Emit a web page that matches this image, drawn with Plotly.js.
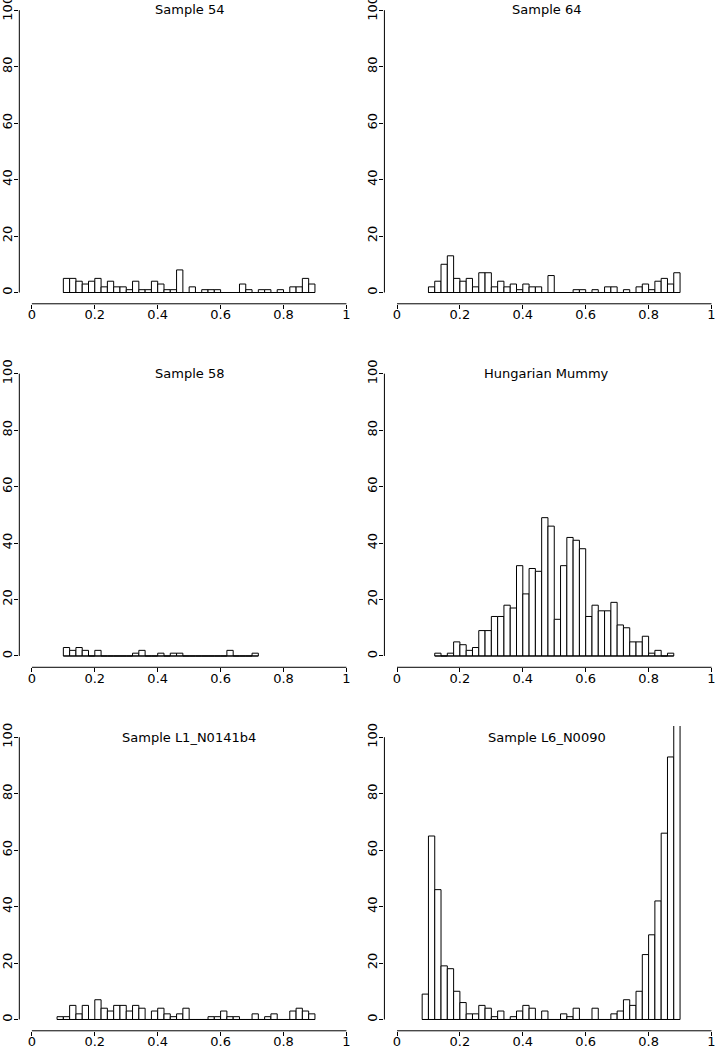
<!DOCTYPE html>
<html><head><meta charset="utf-8">
<script src="https://cdn.plot.ly/plotly-3.0.1.min.js"></script>
<style>html,body{margin:0;padding:0;background:#fff;} #chart{width:716px;height:1050px;}</style>
</head><body><div id="chart"></div>
<script>
// ---- data ----
const titles = ["Sample 54", "Sample 64", "Sample 58", "Hungarian Mummy", "Sample L1_N0141b4", "Sample L6_N0090"];
const binWidth = 0.02;
const binStarts = [0.10, 0.10, 0.10, 0.12, 0.08, 0.08];
const sample54 = [5,5,4,3,4,5,2,4,2,2, 1,4,1,1,4,3,1,1,8,0, 2,0,1,1,1,0,0,0,3,1, 0,1,1,0,1,0,2,2,5,3];
const sample64 = [2,4,10,13,5,4,5,2,7,7, 2,4,2,3,1,3,2,2,0,6, 0,0,0,1,1,0,1,0,2,2, 0,1,0,2,3,1,4,5,3,7];
const sample58 = [3,2,3,2,0,2,0,0,0,0, 0,1,2,0,0,1,0,1,1,0, 0,0,0,0,0,0,2,0,0,0, 1];
const hungarianMummy = [1,0,1,5,4,2,3,9,9,14, 14,18,17,32,22,31,30,49,46,13, 32,42,41,38,14,18,16,16,19,11, 10,5,5,7,1,2,0,1];
const sampleL1 = [1,1,5,2,5,0,7,4,3,5, 5,3,5,4,0,3,4,2,1,2, 4,0,0,0,1,1,3,1,1,0, 0,2,0,1,2,0,0,3,4,3, 2];
const sampleL6 = [9,65,46,19,18,10,6,2,2,5, 4,1,3,0,1,3,5,4,0,3, 0,0,2,1,4,0,0,4,0,0, 2,3,7,5,10,23,30,42,66,93, 130];
const xTickVals = [0, 0.2, 0.4, 0.6, 0.8, 1];
const xTickText = ["0", "0.2", "0.4", "0.6", "0.8", "1"];
const yTickVals = [0, 20, 40, 60, 80, 100];
const yTickText = ["0", "20", "40", "60", "80", "100"];

const series = [sample54, sample64, sample58, hungarianMummy, sampleL1, sampleL6];

// ---- layout geometry (pixels) ----
const W = 716, H = 1050;
const colX0 = [31.9, 397.0];          // pixel of x = 0
const kx = 314.5;                     // px per x unit
const rowY0 = [292.5, 656.0, 1019.5]; // pixel of y = 0
const ky = 2.823;                     // px per count
const titleX = [189, 546.5];
const titleY = [10, 373, 737];
const FONT = "DejaVu Sans, Arial, sans-serif";
const FS = 13;

const traces = [];
const layout = {
  width: W, height: H,
  margin: {l: 0, r: 0, t: 0, b: 0, pad: 0},
  paper_bgcolor: "#fff", plot_bgcolor: "rgba(0,0,0,0)",
  showlegend: false, bargap: 0,
  shapes: [], annotations: [],
  font: {family: FONT, color: "#000", size: FS}
};

series.forEach((vals, i) => {
  const r = Math.floor(i / 2), c = i % 2;
  const idx = i + 1;
  const xa = "x" + (idx === 1 ? "" : idx), ya = "y" + (idx === 1 ? "" : idx);
  const xKey = "xaxis" + (idx === 1 ? "" : idx), yKey = "yaxis" + (idx === 1 ? "" : idx);

  const x0 = colX0[c];
  const leftPx = x0 - 0.04 * kx;
  const rightPx = Math.min(W, x0 + 1.04 * kx);
  const y0 = rowY0[r];
  const topPx = Math.max(0, y0 - 104 * ky);
  const botPx = y0 + 4 * ky;

  const centers = vals.map((v, j) => binStarts[i] + binWidth * (j + 0.5));
  const start = binStarts[i], end = binStarts[i] + binWidth * vals.length;
  traces.push({
    type: "scatter", mode: "lines", x: [start, end], y: [0, 0],
    xaxis: xa, yaxis: ya, line: {color: "#000", width: 1}, hoverinfo: "skip"
  });
  traces.push({
    type: "bar", x: centers, y: vals, width: binWidth,
    xaxis: xa, yaxis: ya,
    marker: {color: "#fff", line: {color: "#000", width: 1}},
    hoverinfo: "skip"
  });

  layout[xKey] = {
    domain: [leftPx / W, rightPx / W],
    range: [(leftPx - x0) / kx, (rightPx - x0) / kx],
    anchor: ya, showgrid: false, zeroline: false, showline: false,
    tickmode: "array", tickvals: xTickVals, ticktext: xTickText,
    ticks: "outside", ticklen: 4, tickwidth: 1, tickcolor: "#000",
    ticklabelstandoff: -5, ticklabeloverflow: "allow",
    tickfont: {family: FONT, size: FS, color: "#000"}, fixedrange: true
  };
  layout[yKey] = {
    domain: [1 - botPx / H, 1 - topPx / H],
    range: [(y0 - botPx) / ky, (y0 - topPx) / ky],
    anchor: xa, showgrid: false, zeroline: false, showline: false,
    tickmode: "array", tickvals: yTickVals, ticktext: yTickText,
    ticks: "outside", ticklen: 4, tickwidth: 1, tickcolor: "#000", tickangle: -90,
    ticklabelstandoff: -3, ticklabeloverflow: "allow",
    tickfont: {family: FONT, size: FS, color: "#000"}, fixedrange: true
  };
  layout.shapes.push({type: "line", xref: xa, yref: ya + " domain",
    x0: xTickVals[0], x1: xTickVals[xTickVals.length - 1], y0: 0, y1: 0,
    line: {color: "#000", width: 1}});
  layout.shapes.push({type: "line", xref: xa + " domain", yref: ya,
    x0: 0, x1: 0, y0: yTickVals[0], y1: yTickVals[yTickVals.length - 1],
    line: {color: "#000", width: 1}});
  layout.annotations.push({
    text: titles[i], xref: "paper", yref: "paper",
    x: titleX[c] / W, y: 1 - titleY[r] / H, xanchor: "center", yanchor: "middle",
    showarrow: false, font: {family: FONT, size: FS, color: "#000"}
  });
});

Plotly.newPlot("chart", traces, layout, {staticPlot: true, displayModeBar: false});
</script>
</body></html>
